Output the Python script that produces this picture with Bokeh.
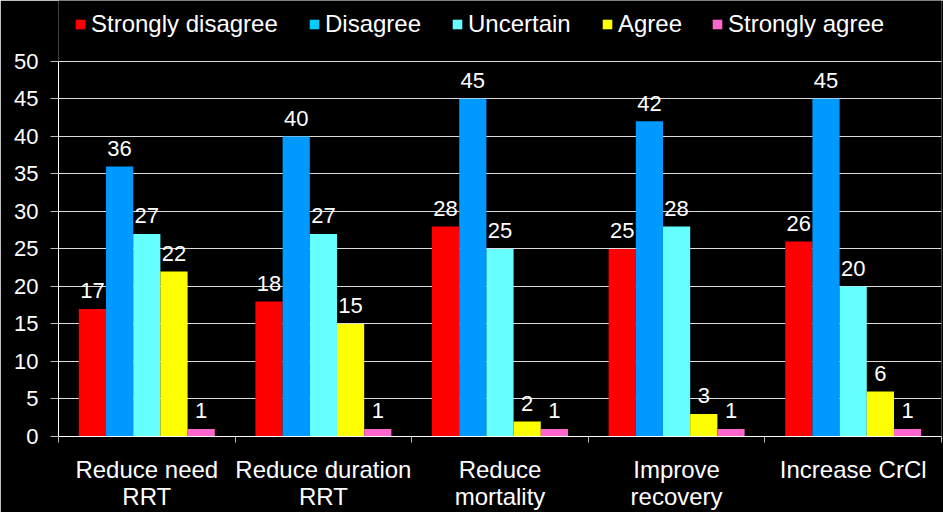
from bokeh.plotting import figure
from bokeh.models import (ColumnDataSource, Range1d, FixedTicker, Legend, LegendItem)
from bokeh.core.properties import value
from bokeh.embed import file_html
from bokeh.resources import INLINE

# Survey responses per statement
statements = ["Reduce need\nRRT", "Reduce duration\nRRT", "Reduce\nmortality",
              "Improve\nrecovery", "Increase CrCl"]
responses = ["Strongly disagree", "Disagree", "Uncertain", "Agree", "Strongly agree"]
strongly_disagree = [17, 18, 28, 25, 26]
disagree = [36, 40, 45, 42, 45]
uncertain = [27, 27, 25, 28, 20]
agree = [22, 15, 2, 3, 6]
strongly_agree = [1, 1, 1, 1, 1]
y_ticks = [0, 5, 10, 15, 20, 25, 30, 35, 40, 45, 50]

series = [strongly_disagree, disagree, uncertain, agree, strongly_agree]
bar_colors = ["#FF0000", "#0099FF", "#66FFFF", "#FFFF00", "#FF66CC"]
key_colors = ["#FF0000", "#00CCFF", "#66FFFF", "#FFFF00", "#FF66CC"]

FONT = "Liberation Sans"
BAR_W = 0.154
Y_MAX = 50
Y_TOP = 58.11   # headroom above the value axis holds the key
KEY_X = [16, 250, 393, 543, 653]   # key entry offsets from the frame's left edge (px)
KEY_Y = 398

p = figure(width=943, height=512, output_backend="svg", toolbar_location=None,
           x_range=Range1d(0, 5), y_range=Range1d(0, Y_TOP),
           min_border_left=58, min_border_right=2, min_border_top=0,
           min_border_bottom=75)
p.background_fill_color = "black"
p.border_fill_color = "black"
p.outline_line_color = None

centers = [i + 0.5 for i in range(len(statements))]

for j, (vals, col) in enumerate(zip(series, bar_colors)):
    xs = [c + (j - 2) * BAR_W for c in centers]
    src = ColumnDataSource(dict(x=xs, top=vals, lab=[str(v) for v in vals]))
    p.vbar(x="x", top="top", width=BAR_W, source=src, fill_color=col,
           line_color=None)
    p.text(x="x", y="top", text="lab", source=src, text_color="white",
           text_font=value(FONT), text_font_size="22px", text_align="center",
           text_baseline="alphabetic", y_offset=-18)

# key: one off-range square per response supplies the key colour
for name, col, kx in zip(responses, key_colors, KEY_X):
    r = p.rect(x=[-10], y=[-10], width=1, height=1, fill_color=col,
               line_color=None)
    key = Legend(items=[LegendItem(label=name, renderers=[r], index=0)],
                 orientation="horizontal", location=(kx, KEY_Y),
                 glyph_width=12, glyph_height=12, label_standoff=5,
                 padding=0, margin=0, border_line_alpha=0,
                 background_fill_alpha=0, label_text_color="white",
                 label_text_font=FONT, label_text_font_size="24px")
    p.add_layout(key, "center")

# y axis
p.yaxis.ticker = FixedTicker(ticks=y_ticks)
p.yaxis.bounds = (0, Y_MAX)
p.yaxis.axis_line_color = "white"
p.yaxis.major_tick_line_color = "#bbbbbb"
p.yaxis.major_tick_out = 8
p.yaxis.major_tick_in = 0
p.yaxis.minor_tick_line_color = None
p.yaxis.major_label_text_color = "white"
p.yaxis.major_label_text_font = FONT
p.yaxis.major_label_text_font_size = "22px"
p.yaxis.major_label_standoff = 12

p.ygrid.ticker = FixedTicker(ticks=y_ticks)
p.ygrid.grid_line_color = "#dddddd"
p.ygrid.grid_line_width = 1
p.xgrid.grid_line_color = None

# x axis: labels at group centres, tick marks at group boundaries
p.xaxis.ticker = FixedTicker(ticks=centers, minor_ticks=[0, 1, 2, 3, 4, 5])
p.xaxis.major_label_overrides = {c: s for c, s in zip(centers, statements)}
p.xaxis.axis_line_color = "white"
p.xaxis.major_tick_out = 0
p.xaxis.major_tick_in = 0
p.xaxis.minor_tick_out = 6
p.xaxis.minor_tick_in = 0
p.xaxis.minor_tick_line_color = "#bbbbbb"
p.xaxis.major_label_text_color = "white"
p.xaxis.major_label_text_font = FONT
p.xaxis.major_label_text_font_size = "24px"
p.xaxis.major_label_text_line_height = 1.0
p.xaxis.major_label_standoff = 13

open("out.html", "w").write(file_html(p, INLINE))
